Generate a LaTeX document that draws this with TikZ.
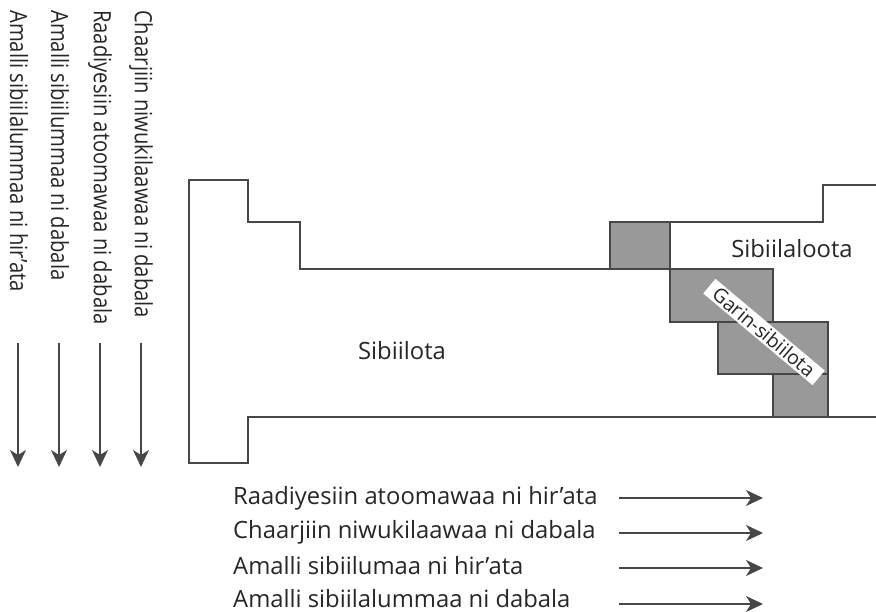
\documentclass[tikz,border=0pt]{standalone}
\usepackage{fontspec}
\setmainfont{Open Sans}
\usepackage{tikz}
\usetikzlibrary{arrows.meta}
\definecolor{edge}{gray}{0.28}
\definecolor{boundary}{gray}{0.6}
\definecolor{ink}{gray}{0.15}
\tikzstyle{grain} = [draw=edge, line width=1.6pt, line join=miter]
\tikzstyle{cell} = [draw=edge, line width=1.4pt, fill=boundary]
\tikzstyle{txt} = [font=\fontsize{23.8}{27}\selectfont, text=ink, inner sep=0pt]
\tikzstyle{vtxt} = [txt, rotate=-90, anchor=west]
\tikzstyle{keytext} = [txt, anchor=west]
\tikzstyle{tag} = [txt, font=\fontsize{19.5}{22}\selectfont, fill=white, inner xsep=8pt, inner ysep=2pt, rotate=-40]
\tikzstyle{arrow} = [line width=1.7pt, draw=edge, -{Stealth[length=17pt, width=16pt, inset=5pt]}]

\begin{document}
\begin{tikzpicture}[x=1pt, y=-1pt]
        \useasboundingbox (0,0) rectangle (876,612);
        % grain boundary cells
        \draw [cell] (610,222) rectangle (670,269);
        \draw [cell] (670,269) rectangle (773,322);
        \draw [cell] (718,322) rectangle (828,374);
        \draw [cell] (773,374) rectangle (828,417);
        % outline of the grains
        \draw [grain] (876,185) -- (823,185) -- (823,222) -- (610,222) -- (610,269) -- (300,269) -- (300,222) -- (248,222) -- (248,180) -- (189,180) -- (189,463) -- (248,463) -- (248,417) -- (876,417);
        \node (lower) [txt] at (402,351) {Sibiilota};
        \node (upper) [txt] at (792,249) {Sibiilaloota};
        \node (gb) [tag] at (764,332) {Garin-sibiilota};
        % vertical labels
        \node (v1) [vtxt] at (141,10) {\scalebox{0.85}[1]{Chaarjiin niwukilaawaa ni dabala}};
        \coordinate (v1a) at (141,343);
        \coordinate (v1b) at (141,467);
        \draw [arrow] (v1a) -- (v1b);
        \node (v2) [vtxt] at (100,10) {\scalebox{0.85}[1]{Raadiyesiin atoomawaa ni dabala}};
        \coordinate (v2a) at (100,343);
        \coordinate (v2b) at (100,467);
        \draw [arrow] (v2a) -- (v2b);
        \node (v3) [vtxt] at (60,10) {\scalebox{0.85}[1]{Amalli sibiilummaa ni dabala}};
        \coordinate (v3a) at (59,343);
        \coordinate (v3b) at (59,467);
        \draw [arrow] (v3a) -- (v3b);
        \node (v4) [vtxt] at (19,10) {\scalebox{0.85}[1]{Amalli sibiilalummaa ni hir’ata}};
        \coordinate (v4a) at (18,343);
        \coordinate (v4b) at (18,467);
        \draw [arrow] (v4a) -- (v4b);
        % horizontal labels
        \node (h1) [keytext] at (233,498) {Raadiyesiin atoomawaa ni hir’ata};
        \coordinate (h1a) at (619,498);
        \coordinate (h1b) at (763,498);
        \draw [arrow] (h1a) -- (h1b);
        \node (h2) [keytext] at (233,532) {Chaarjiin niwukilaawaa ni dabala};
        \coordinate (h2a) at (619,533);
        \coordinate (h2b) at (763,533);
        \draw [arrow] (h2a) -- (h2b);
        \node (h3) [keytext] at (233,566) {Amalli sibiilumaa ni hir’ata};
        \coordinate (h3a) at (619,568);
        \coordinate (h3b) at (763,568);
        \draw [arrow] (h3a) -- (h3b);
        \node (h4) [keytext] at (233,599) {Amalli sibiilalummaa ni dabala};
        \coordinate (h4a) at (619,604);
        \coordinate (h4b) at (763,604);
        \draw [arrow] (h4a) -- (h4b);
      \end{tikzpicture}
\end{document}
